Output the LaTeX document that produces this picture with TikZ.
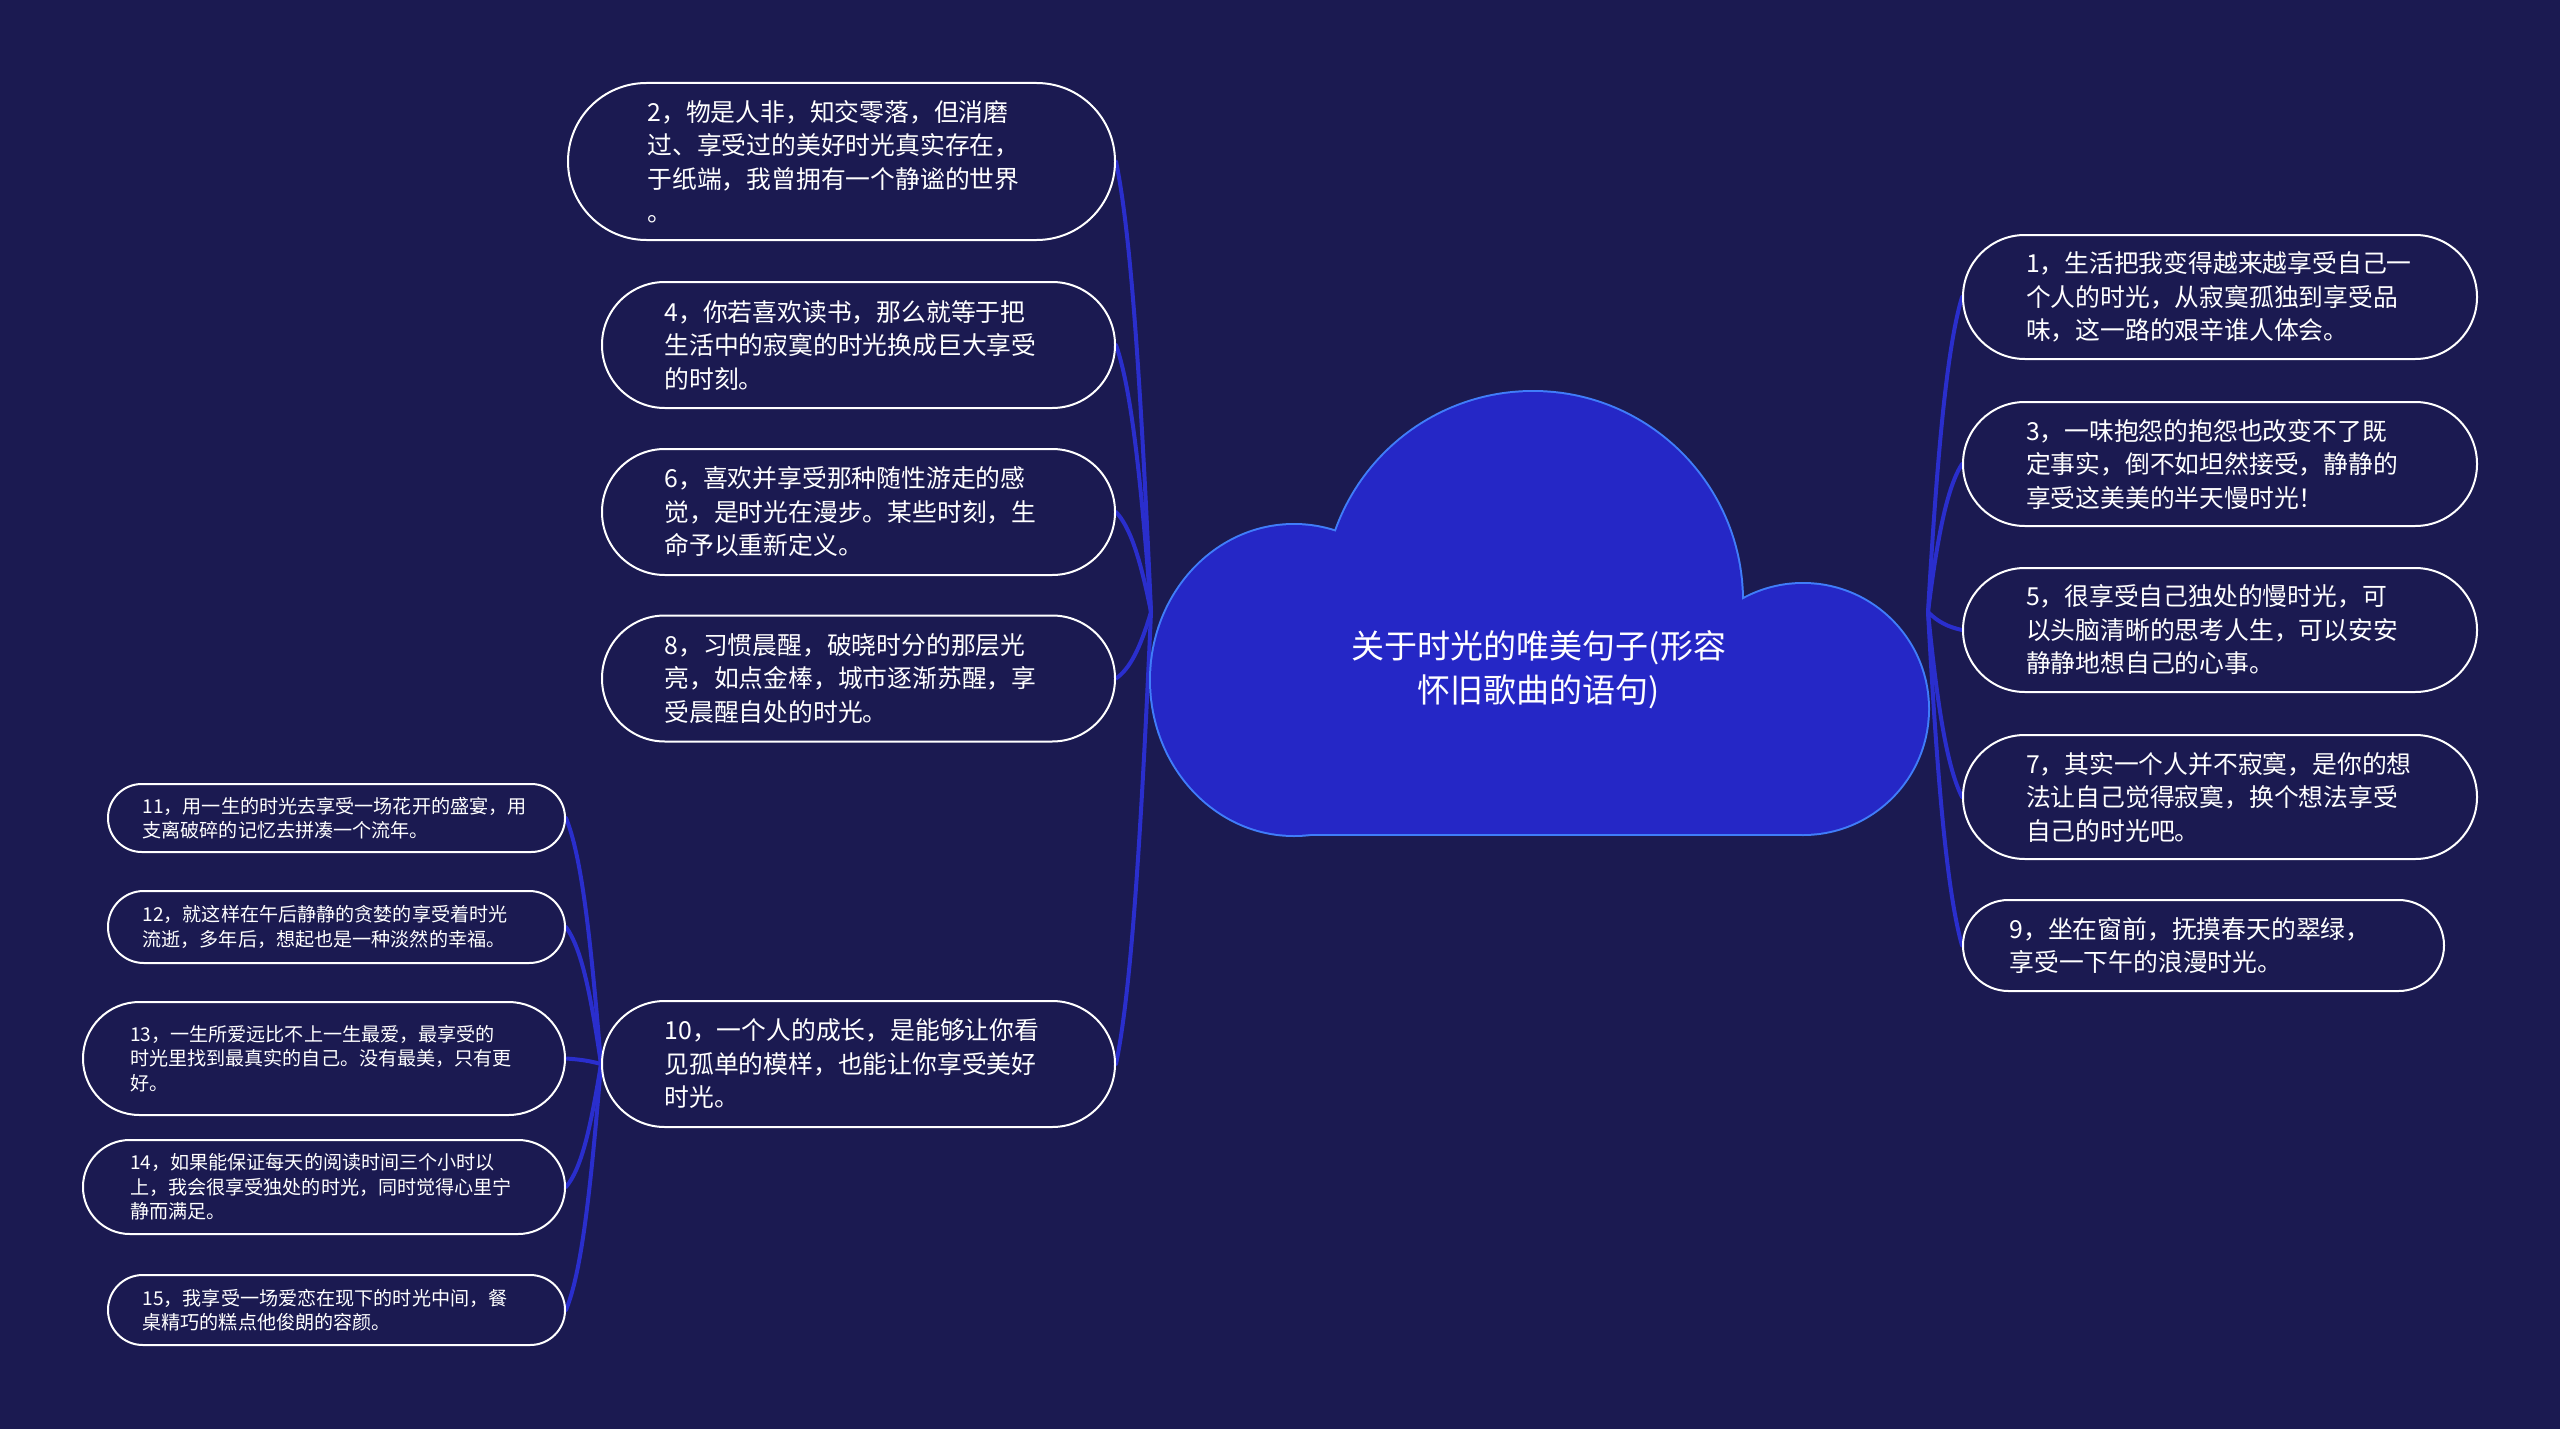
\documentclass[tikz,border=0pt]{standalone}
\usepackage{fontspec}
\setmainfont{Noto Sans CJK SC}
\definecolor{bgc}{RGB}{27,26,81}
\definecolor{cloudfill}{RGB}{37,39,198}
\definecolor{cloudline}{RGB}{64,125,250}
\definecolor{linkc}{RGB}{42,46,205}
\pgfdeclarelayer{back}
\pgfsetlayers{back,main}
\tikzset{
  box/.style={rectangle, draw=white, line width=1pt, fill=bgc, text=white, inner sep=0pt, align=left, text width=194pt},
  bigbox/.style={box, font=\fontsize{12.4pt}{16.75pt}\selectfont},
  smallbox/.style={box, font=\fontsize{9.55pt}{12.25pt}\selectfont},
  titlenode/.style={text=white, align=center, font=\fontsize{16.5pt}{22pt}\selectfont, inner sep=0pt},
  link/.style={draw=linkc, line width=2pt, line cap=round},
  cloudpart/.style={draw=cloudline, line width=2pt, fill=cloudfill},
}
\begin{document}
\begin{tikzpicture}[x=0.5pt,y=-0.5pt]
\useasboundingbox (0,0) rectangle (2560,1429);
\begin{pgfonlayer}{back}
\fill[bgc] (0,0) rectangle (2560,1429);
\end{pgfonlayer}

% cloud (union of shapes: outline pass, then fill pass)
\path[cloudpart] (1294,680) ellipse [x radius=71.5pt, y radius=77.5pt];
\path[cloudpart] (1533,601) circle [radius=104.5pt];
\path[cloudpart] (1803,709) circle [radius=62.5pt];
\path[cloudpart] (1300,650) rectangle (1797,834);
\path[fill=cloudfill] (1294,680) ellipse [x radius=71.5pt, y radius=77.5pt];
\path[fill=cloudfill] (1533,601) circle [radius=104.5pt];
\path[fill=cloudfill] (1803,709) circle [radius=62.5pt];
\path[fill=cloudfill] (1300,650) rectangle (1797,834);

\node[titlenode] (root) at (1539,670) {关于时光的唯美句子(形容\\怀旧歌曲的语句)};
\coordinate (jl) at (1151,612);
\coordinate (jr) at (1928,612);

% right branch
\node[bigbox, minimum width=257pt, minimum height=62pt, rounded corners=30.9pt] (n1) at (2220,297) {1，生活把我变得越来越享受自己一\\个人的时光，从寂寞孤独到享受品\\味，这一路的艰辛谁人体会。};
\node[bigbox, minimum width=257pt, minimum height=62pt, rounded corners=30.9pt] (n3) at (2220,464) {3，一味抱怨的抱怨也改变不了既\\定事实，倒不如坦然接受，静静的\\享受这美美的半天慢时光！};
\node[bigbox, minimum width=257pt, minimum height=62pt, rounded corners=30.9pt] (n5) at (2220,630) {5，很享受自己独处的慢时光，可\\以头脑清晰的思考人生，可以安安\\静静地想自己的心事。};
\node[bigbox, minimum width=257pt, minimum height=62pt, rounded corners=30.9pt] (n7) at (2220,797) {7，其实一个人并不寂寞，是你的想\\法让自己觉得寂寞，换个想法享受\\自己的时光吧。};
\node[bigbox, minimum width=240.5pt, minimum height=45.5pt, rounded corners=22.7pt] (n9) at (2203.5,945.5) {9，坐在窗前，抚摸春天的翠绿，\\享受一下午的浪漫时光。};

% left branch
\node[bigbox, minimum width=273.5pt, minimum height=78.5pt, rounded corners=39.2pt] (n2) at (841.5,161.5) {2，物是人非，知交零落，但消磨\\过、享受过的美好时光真实存在，\\于纸端，我曾拥有一个静谧的世界\\。};
\node[bigbox, minimum width=256.5pt, minimum height=63pt, rounded corners=31.4pt] (n4) at (858.5,345) {4，你若喜欢读书，那么就等于把\\生活中的寂寞的时光换成巨大享受\\的时刻。};
\node[bigbox, minimum width=256.5pt, minimum height=63pt, rounded corners=31.4pt] (n6) at (858.5,512) {6，喜欢并享受那种随性游走的感\\觉，是时光在漫步。某些时刻，生\\命予以重新定义。};
\node[bigbox, minimum width=256.5pt, minimum height=63pt, rounded corners=31.4pt] (n8) at (858.5,678.5) {8，习惯晨醒，破晓时分的那层光\\亮，如点金棒，城市逐渐苏醒，享\\受晨醒自处的时光。};
\node[bigbox, minimum width=256.5pt, minimum height=63pt, rounded corners=31.4pt] (n10) at (858.5,1064) {10，一个人的成长，是能够让你看\\见孤单的模样，也能让你享受美好\\时光。};

% leaves of 10
\node[smallbox, minimum width=228.5pt, minimum height=34pt, rounded corners=16.9pt] (n11) at (336.5,818) {11，用一生的时光去享受一场花开的盛宴，用\\支离破碎的记忆去拼凑一个流年。};
\node[smallbox, minimum width=228.5pt, minimum height=36pt, rounded corners=17.9pt] (n12) at (336.5,927) {12，就这样在午后静静的贪婪的享受着时光\\流逝，多年后，想起也是一种淡然的幸福。};
\node[smallbox, minimum width=241pt, minimum height=56.5pt, rounded corners=28.2pt] (n13) at (324,1058.5) {13，一生所爱远比不上一生最爱，最享受的\\时光里找到最真实的自己。没有最美，只有更\\好。};
\node[smallbox, minimum width=241pt, minimum height=47pt, rounded corners=23.4pt] (n14) at (324,1187) {14，如果能保证每天的阅读时间三个小时以\\上，我会很享受独处的时光，同时觉得心里宁\\静而满足。};
\node[smallbox, minimum width=228.5pt, minimum height=35pt, rounded corners=17.4pt] (n15) at (336.5,1310) {15，我享受一场爱恋在现下的时光中间，餐\\桌精巧的糕点他俊朗的容颜。};

\begin{pgfonlayer}{back}
\draw[link] (jl) .. controls +(-11,-248) and +(14,68) .. (n2.east);
\draw[link] (jl) .. controls +(-11,-147) and +(14,40) .. (n4.east);
\draw[link] (jl) .. controls +(-11,-55) and +(14,15) .. (n6.east);
\draw[link] (jl) .. controls +(-11,37) and +(14,-10) .. (n8.east);
\draw[link] (jl) .. controls +(-11,249) and +(14,-68) .. (n10.east);
\draw[link] (jr) .. controls +(10,-173) and +(-14,47) .. (n1.west);
\draw[link] (jr) .. controls +(10,-81) and +(-14,22) .. (n3.west);
\draw[link] (jr) .. controls +(10,10) and +(-14,-3) .. (n5.west);
\draw[link] (jr) .. controls +(10,102) and +(-14,-28) .. (n7.west);
\draw[link] (jr) .. controls +(10,183) and +(-14,-50) .. (n9.west);
\draw[link] (n10.west) .. controls +(-11,-135) and +(15,37) .. (n11.east);
\draw[link] (n10.west) .. controls +(-11,-75) and +(15,21) .. (n12.east);
\draw[link] (n10.west) .. controls +(-11,-3) and +(15,1) .. (n13.east);
\draw[link] (n10.west) .. controls +(-11,68) and +(15,-18) .. (n14.east);
\draw[link] (n10.west) .. controls +(-11,135) and +(15,-37) .. (n15.east);
\end{pgfonlayer}
\end{tikzpicture}
\end{document}
